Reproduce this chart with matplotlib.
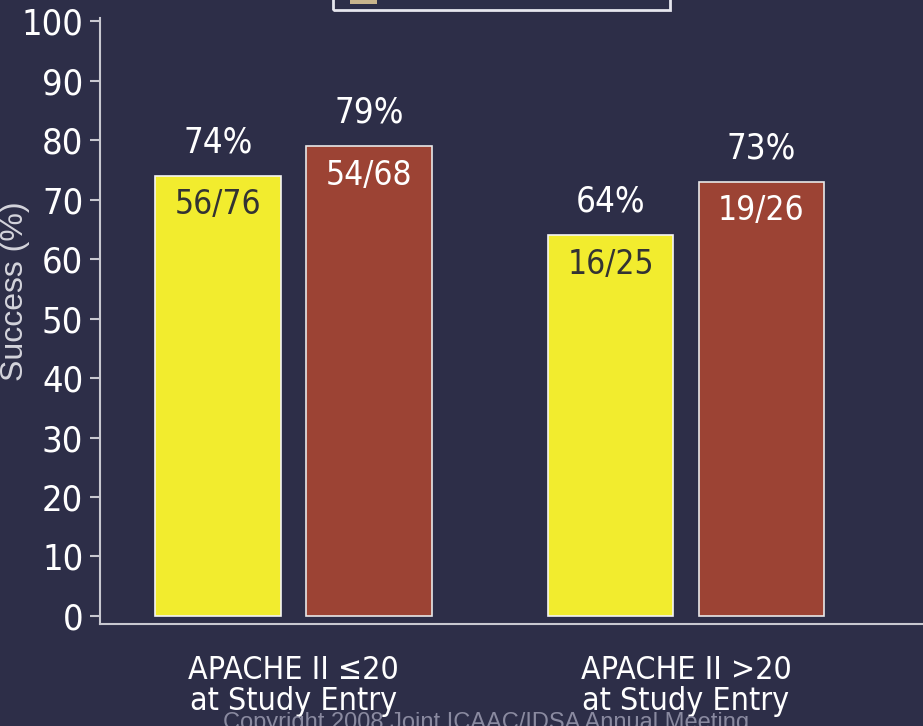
import matplotlib
matplotlib.use('Agg')
import matplotlib.pyplot as plt
from matplotlib import font_manager as fm
import numpy as np
from matplotlib.patches import Rectangle

# data
groups = ["APACHE II \u226420\nat Study Entry", "APACHE II >20\nat Study Entry"]
pct_a = [74, 64]
pct_b = [79, 73]
frac_a = ["56/76", "16/25"]
frac_b = ["54/68", "19/26"]

bg = '#2d2e48'
yellow = '#f2ec2e'
red = '#9c4334'

# the slide uses a narrow face; take one if the machine has it
narrow_files = [f.fname for f in fm.fontManager.ttflist
                if any(k in (f.name + f.fname) for k in ('Narrow', 'Condensed', 'SemiCondensed'))
                and f.weight in (400, 'normal', 'regular', 'book') and f.style == 'normal']
narrow_files = sorted(narrow_files, key=lambda p: ('Liberation' not in p, 'Semi' in p, p))
if narrow_files:
    def nf(size):
        return fm.FontProperties(fname=narrow_files[0], size=size)
else:
    def nf(size):
        return fm.FontProperties(family='Liberation Sans', size=size * 0.86)

fig = plt.figure(figsize=(9.23, 7.26), dpi=100, facecolor=bg)
ax = fig.add_axes([100/923, 0.1405, 1 - 100/923, 0.975 - 0.1405])
ax.set_facecolor(bg)

x = np.arange(len(groups))
w = 0.32
off = 0.192
bars_a = ax.bar(x - off, pct_a, w, color=yellow, edgecolor='#f4f4f4', linewidth=1.2)
bars_b = ax.bar(x + off, pct_b, w, color=red, edgecolor='#e8e8e8', linewidth=1.2)

for bars, pcts, fracs, tc in [(bars_a, pct_a, frac_a, '#333333'), (bars_b, pct_b, frac_b, 'white')]:
    for b, p, f in zip(bars, pcts, fracs):
        cx = b.get_x() + b.get_width() / 2
        ax.annotate(f"{p}%", (cx, b.get_height()), xytext=(0, 24), textcoords='offset points',
                    ha='center', va='center', color='white', fontproperties=nf(25))
        ax.annotate(f, (cx, b.get_height()), xytext=(0, -21), textcoords='offset points',
                    ha='center', va='center', color=tc, fontproperties=nf(24))

ax.set_xlim(-0.493, 1.604)
ax.set_ylim(-1.35, 100.5)
ax.set_yticks(np.arange(0, 101, 10))
ax.set_xticks(x)
ax.set_xticklabels(groups, color='white', fontproperties=nf(23), linespacing=1.0)
for lab in ax.get_yticklabels():
    lab.set_fontproperties(nf(26))
    lab.set_color('white')
ax.tick_params(axis='y', colors='#c8c8d0', labelcolor='white', length=7, width=1.5, pad=5)
ax.tick_params(axis='x', length=0, pad=22)

for s in ['top', 'right']:
    ax.spines[s].set_visible(False)
ax.spines['left'].set_color('#c8c8d0')
ax.spines['bottom'].set_color('#c8c8d0')
ax.spines['left'].set_linewidth(1.5)
ax.spines['bottom'].set_linewidth(1.5)
ax.spines['left'].set_bounds(-1.35, 100.5)

ax.set_ylabel("Success (%)", fontsize=23, color='#d4d4dc', family='Liberation Sans')
ax.yaxis.set_label_coords(-0.085, 0.55)

# clipped legend frame at the top edge
fig.patches.append(Rectangle((333/923, 1 - 10/726), 337/923, 0.05, transform=fig.transFigure,
                             facecolor='none', edgecolor='#e6e6ee', linewidth=2))
fig.patches.append(Rectangle((350/923, 1 - 4/726), 27/923, 0.03, transform=fig.transFigure,
                             facecolor='#c9b48c', edgecolor='none'))

fig.text(0.527, 0.004, "Copyright 2008 Joint ICAAC/IDSA Annual Meeting", ha='center', va='center',
         fontsize=17, color='#8a8aa0', family='Liberation Sans', zorder=0)

fig.savefig("out.png", dpi=100, facecolor=bg)
